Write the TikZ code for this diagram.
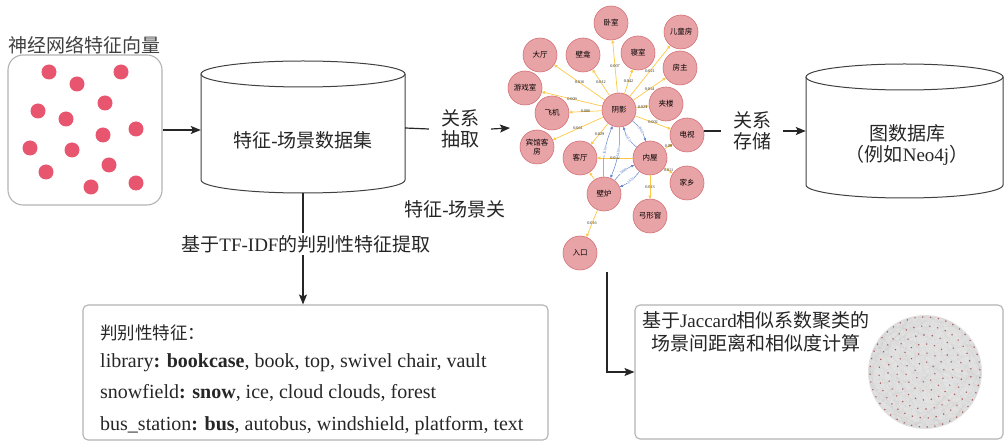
\documentclass[tikz,border=0pt]{standalone}
\usepackage{fontspec}
\setmainfont{Liberation Serif}
\newfontfamily\cjk{Noto Sans CJK SC}
\usetikzlibrary{arrows.meta,calc}
\definecolor{dotred}{RGB}{232,85,110}
\definecolor{nodepink}{RGB}{232,163,166}
\definecolor{nodeline}{RGB}{212,112,118}
\definecolor{yel}{RGB}{252,200,70}
\definecolor{blu}{RGB}{95,130,205}
\newcommand{\en}[1]{{\rmfamily #1}}

\begin{document}
\begin{tikzpicture}[x=1pt,y=-1pt,
  every node/.style={inner sep=0pt},
  big/.style={font=\cjk\fontsize{19}{21}\selectfont, text=black!85},
  lat/.style={font=\fontsize{20}{22}\selectfont, text=black!85, anchor=base west},
  box/.style={draw=gray!60, line width=1.1pt, rounded corners=5pt},
  cyl/.style={draw=black!75, line width=1pt},
  flow/.style={line width=1.2pt, black!85},
  tip/.style={-{Stealth[length=10pt,width=8pt,inset=2pt]}},
  gn/.style={circle, minimum size=34pt, fill=nodepink, draw=nodeline, line width=0.6pt, align=center, font=\cjk\fontsize{7.5}{8.5}\selectfont},
  ye/.style={yel, line width=0.7pt, -{Triangle[length=3pt,width=3pt]}},
  be/.style={blu, line width=0.5pt, -{Triangle[length=3pt,width=2.5pt]}},
  el/.style={font=\fontsize{4.2}{5}\selectfont, text=black!85},
  bel/.style={font=\fontsize{4}{5}\selectfont, text=blu, sloped, fill=white}
]
\useasboundingbox (0,0) rectangle (1007,443);

\node[big, text=black!75] (vectitle) at (85,45) {神经网络特征向量};
\node[box, rounded corners=15pt, minimum width=154pt, minimum height=150pt] (vec) at (85,130) {};
\foreach \p in {(49,72),(121,72),(77,84),(105,103),(38,111),(66,119),(136,129),(103,135),(30,148),(72,150),(109,165),(46,172),(91,187),(136,183)}
  \fill[dotred] \p circle[radius=7.5pt];

\node[minimum width=204pt, minimum height=130pt] (dset) at (303,128) {};
\draw[cyl] (201,74) -- (201,180) arc[start angle=180, end angle=360, x radius=102pt, y radius=13pt] -- (405,74);
\draw[cyl] (303,74) ellipse[x radius=102pt, y radius=13pt];
\node[big] (dsetlab) at (303,140) {特征\en{-}场景数据集};

\node[minimum width=197pt, minimum height=134pt] (gdb) at (904.5,131) {};
\draw[cyl] (806,77) -- (806,185) arc[start angle=180, end angle=360, x radius=98.5pt, y radius=13pt] -- (1003,77);
\draw[cyl] (904.5,77) ellipse[x radius=98.5pt, y radius=13pt];
\node[big, align=center] (gdblab) at (907,145) {图数据库\\（例如\en{Neo4j}）};

\node[big, align=center, inner xsep=12pt] (ext) at (460,129) {关系\\抽取};
\node[big, align=center, inner xsep=12pt] (sto) at (752,131) {关系\\存储};
\node[big] (partial) at (455,209) {特征\en{-}场景关};
\coordinate (gin) at (510,128);
\coordinate (gout) at (607,272);

\node[gn] (yy) at (619,110) {阴影};
\node[gn] (ws) at (611,23) {卧室};
\node[gn] (et) at (681,32) {儿童房};
\node[gn] (dt) at (540,55) {大厅};
\node[gn] (bk) at (583,55) {壁龛};
\node[gn] (qs) at (638,53) {寝室};
\node[gn] (fz) at (680,68) {房主};
\node[gn] (yx) at (525,88) {游戏室};
\node[gn] (fj) at (552,113) {飞机};
\node[gn] (jl) at (666,104) {夹楼};
\node[gn] (ds) at (687,135) {电视};
\node[gn] (bg) at (537,147) {宾馆客\\房};
\node[gn] (kt) at (580,158) {客厅};
\node[gn] (nw) at (650,158) {内屋};
\node[gn] (jx) at (687,183) {家乡};
\node[gn] (bilu) at (604,194) {壁炉};
\node[gn] (gx) at (650,216) {弓形窗};
\node[gn] (rk) at (580,253) {入口};

\foreach \t/\v in {ws/0.007, et/0.021, dt/0.016, bk/0.012, qs/0.042, fz/0.014, yx/0.009, fj/0.006, jl/0.023, ds/0.002, bg/0.061, kt/0.029}
  \draw[ye] (yy) -- node[el]{\v} (\t);
\draw[ye] (nw) -- node[el]{0.052} (kt);
\draw[ye] (nw) -- node[el]{0.09} (ds);
\draw[ye] (nw) -- node[el]{0.011} (jx);
\draw[ye] (nw) -- node[el]{0.013} (gx);
\draw[ye] (bilu) -- node[el]{0.016} (rk);
\draw[ye] (bilu) -- (kt);
\draw[be] (bilu) to[bend left=12] node[bel]{3636} (yy);
\draw[be] (yy) to[bend left=12] node[bel]{4430} (bilu);
\draw[be] (yy) to[bend left=18] node[bel]{3900} (nw);
\draw[be] (nw) to[bend left=18] node[bel]{4413} (yy);
\draw[be] (nw) to[bend left=14] node[bel]{3635} (bilu);
\draw[be] (bilu) to[bend left=14] node[bel]{3898} (nw);

\node[box, minimum width=465pt, minimum height=135pt] (feat) at (315.5,372.5) {};
\node[font=\cjk\fontsize{17.5}{20}\selectfont, text=black!85, anchor=base west] (fhead) at (100,340) {判别性特征：};
\node[lat] (f1) at (100,368) {library\textbf{: bookcase}, book, top, swivel chair, vault};
\node[lat] (f2) at (100,399) {snowfield\textbf{: snow}, ice, cloud clouds, forest};
\node[lat] (f3) at (100,431) {bus\_station\textbf{: bus}, autobus, windshield, platform, text};

\node[box, minimum width=368pt, minimum height=134pt] (sim) at (819,372) {};
\node[big, align=center, font=\cjk\fontsize{19}{23}\selectfont] (simtxt) at (756,332) {基于\en{Jaccard}相似系数聚类的\\场景间距离和相似度计算};
\coordinate (ball) at (925,372);
\fill[gray!22] (ball) circle[radius=57pt];
\pgfmathsetseed{11}
\foreach \i in {1,...,260}{
  \pgfmathsetmacro\a{360*rnd}
  \pgfmathsetmacro\b{360*rnd}
  \draw[gray!55, opacity=0.18, line width=0.2pt] ([shift={(\a:56)}]ball) -- ([shift={(\b:56)}]ball);
}
\foreach \r/\n in {55/44,46/36,37/28,28/22,19/14,10/8}
  \foreach \k in {1,...,\n}
    \fill[red!55!black, opacity=0.6] ([shift={({360*\k/\n+\r}:\r)}]ball) circle[radius=0.8pt];

\draw[flow, tip] (vec.east) -- (vec.east -| dset.west);
\draw[flow] (dset.east) -- (ext.west);
\draw[flow, tip] (ext.east) -- (gin);
\draw[flow] (sto.west -| ds.east) -- (sto.west);
\draw[flow, tip] (sto.east) -- (sto.east -| gdb.west);
\draw[flow, tip] (dset.south) -- (dset.south |- feat.north);
\node[big, fill=white, inner sep=2pt] (tfidf) at (306,244) {基于\en{TF-IDF}的判别性特征提取};
\draw[flow, tip] (gout) |- (sim.west);

\end{tikzpicture}
\end{document}
